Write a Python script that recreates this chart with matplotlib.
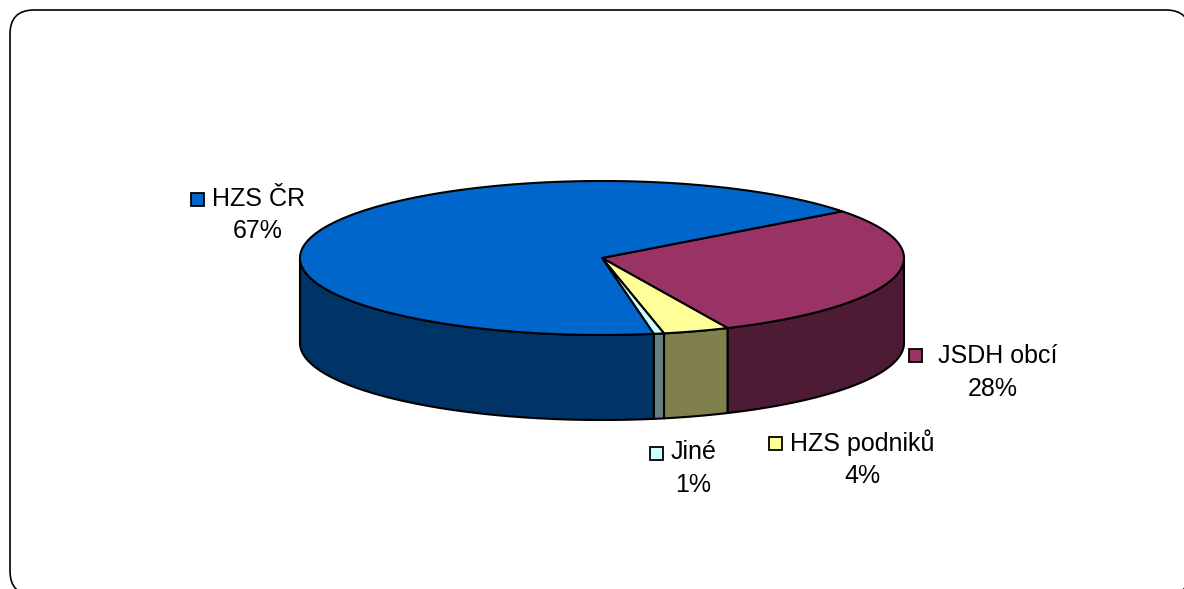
import numpy as np
import matplotlib
matplotlib.use('Agg')
import matplotlib.pyplot as plt
from matplotlib.patches import FancyBboxPatch, Polygon, Rectangle

# shares, clockwise from the top slice edge
labels = ['JSDH obcí', 'HZS podniků', 'Jiné', 'HZS ČR']
values = [28.54, 3.53, 0.55, 67.38]
pct_labels = ['28%', '4%', '1%', '67%']
top_colors = ['#993366', '#FFFF99', '#CCFFFF', '#0066CC']
side_colors = ['#4D1B33', '#80804D', '#668080', '#003366']

# pie geometry in pixels
cx, cy = 602, 258
rx, ry = 302, 77
depth = 85
start = 37.3

# label positions: swatch x, swatch y, name x, name y, percent x, percent y
label_pos = [(915, 355, 938, 356, 993, 389),
             (775, 443, 790, 443, 862, 476),
             (656, 453, 671, 452, 693, 485),
             (197, 199, 212, 199, 258, 231)]

plt.rcParams['font.family'] = 'Liberation Sans'

fig = plt.figure(figsize=(11.84, 5.89), dpi=100)
ax = fig.add_axes([0, 0, 1, 1])
ax.set_xlim(0, 1184)
ax.set_ylim(589, 0)
ax.axis('off')

# outer frame runs off the right and bottom of the picture
ax.add_patch(FancyBboxPatch((34, 34), 1132, 537, boxstyle='round,pad=24,rounding_size=24',
                            fc='white', ec='black', lw=1.2, clip_on=True))


def ell(t, dy=0):
    t = np.radians(t)
    return np.column_stack([cx + rx * np.cos(t), cy - ry * np.sin(t) + dy])


edges = start - np.cumsum([0] + values) * 3.6

# walls first, only the front half (angles below zero)
for i in range(4):
    a, b = edges[i], edges[i + 1]
    hi = min(a, 0)
    lo = max(b, -180)
    if hi <= lo:
        continue
    t = np.linspace(hi, lo, 120)
    pts = np.vstack([ell(t), ell(t[::-1], depth)])
    ax.add_patch(Polygon(pts, closed=True, fc=side_colors[i], ec='black', lw=1.5, joinstyle='round'))

# top faces
for i in range(4):
    t = np.linspace(edges[i], edges[i + 1], 300)
    pts = np.vstack([[cx, cy], ell(t)])
    ax.add_patch(Polygon(pts, closed=True, fc=top_colors[i], ec='black', lw=1.5, joinstyle='round'))

for i in range(4):
    sx, sy, nx, ny, px, py = label_pos[i]
    ax.add_patch(Rectangle((sx - 6.5, sy - 6.5), 13, 13, fc=top_colors[i], ec='black', lw=1.3))
    ax.text(nx, ny, labels[i], fontsize=18, color='black', ha='left', va='center')
    ax.text(px, py, pct_labels[i], fontsize=18, color='black', ha='center', va='center')

fig.savefig('out.png', dpi=100)
